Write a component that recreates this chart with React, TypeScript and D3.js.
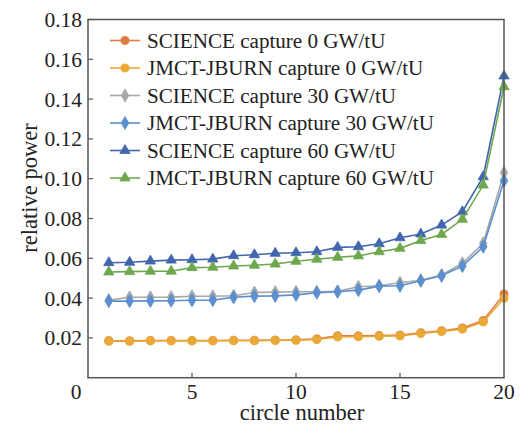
import React from "react";
import * as d3 from "d3";

const circles = [1, 2, 3, 4, 5, 6, 7, 8, 9, 10, 11, 12, 13, 14, 15, 16, 17, 18, 19, 20];

const scienceCapture0 = [0.0186, 0.0185, 0.0187, 0.0187, 0.0187, 0.0187, 0.0188, 0.0188, 0.0189, 0.0190, 0.0195, 0.0210, 0.0210, 0.0212, 0.0214, 0.0226, 0.0236, 0.0250, 0.0287, 0.0420];
const jmctCapture0 = [0.0183, 0.0183, 0.0185, 0.0185, 0.0185, 0.0185, 0.0186, 0.0186, 0.0187, 0.0188, 0.0192, 0.0205, 0.0206, 0.0208, 0.0210, 0.0222, 0.0232, 0.0244, 0.0280, 0.0399];
const scienceCapture30 = [0.0390, 0.0404, 0.0404, 0.0405, 0.0409, 0.0409, 0.0412, 0.0428, 0.0430, 0.0432, 0.0432, 0.0434, 0.0457, 0.0462, 0.0477, 0.0490, 0.0516, 0.0575, 0.0675, 0.1030];
const jmctCapture30 = [0.0385, 0.0385, 0.0386, 0.0387, 0.0389, 0.0390, 0.0404, 0.0410, 0.0411, 0.0416, 0.0427, 0.0432, 0.0440, 0.0460, 0.0462, 0.0487, 0.0512, 0.0561, 0.0658, 0.0990];
const scienceCapture60 = [0.0578, 0.0580, 0.0586, 0.0591, 0.0593, 0.0596, 0.0613, 0.0618, 0.0625, 0.0628, 0.0633, 0.0655, 0.0658, 0.0673, 0.0703, 0.0722, 0.0767, 0.0834, 0.1010, 0.1516];
const jmctCapture60 = [0.0531, 0.0533, 0.0535, 0.0535, 0.0553, 0.0555, 0.0561, 0.0565, 0.0571, 0.0585, 0.0595, 0.0605, 0.0612, 0.0633, 0.0650, 0.0689, 0.0720, 0.0796, 0.0968, 0.1462];

const seriesNames = [
  "SCIENCE capture 0 GW/tU",
  "JMCT-JBURN capture 0 GW/tU",
  "SCIENCE capture 30 GW/tU",
  "JMCT-JBURN capture 30 GW/tU",
  "SCIENCE capture 60 GW/tU",
  "JMCT-JBURN capture 60 GW/tU",
];
const seriesValues = [scienceCapture0, jmctCapture0, scienceCapture30, jmctCapture30, scienceCapture60, jmctCapture60];
const seriesColors = ["#E07C42", "#E9A936", "#A8A8A8", "#5B8FCF", "#4166AE", "#6EA84E"];
const seriesMarkers = ["circle", "circle", "diamond", "diamond", "triangle", "triangle"];

const xTicks = [0, 5, 10, 15, 20];
const yTicks = [0.02, 0.04, 0.06, 0.08, 0.1, 0.12, 0.14, 0.16, 0.18];
const xTitle = "circle number";
const yTitle = "relative power";

const W = 521;
const H = 426;
const FONT = '"Liberation Serif", "DejaVu Serif", serif';

function Marker({ type, x, y, color }: { type: string; x: number; y: number; color: string }) {
  const sym =
    type === "circle" ? d3.symbolCircle : type === "diamond" ? d3.symbolDiamond : d3.symbolTriangle;
  const size = type === "circle" ? 52 : type === "diamond" ? 50 : 46;
  const path = d3.symbol().type(sym).size(size)() || "";
  return <path d={path} transform={`translate(${x},${y})`} fill={color} stroke={color} strokeWidth={0.8} />;
}

const tickStyle: React.CSSProperties = { fontFamily: FONT, fontSize: 21.5 };
const legendStyle: React.CSSProperties = { fontFamily: FONT, fontSize: 21.1 };
const titleStyle: React.CSSProperties = { fontFamily: FONT, fontSize: 22.5 };

export default function App() {
  const x = d3.scaleLinear().domain([0, 20]).range([88, 504]);
  const y = d3.scaleLinear().domain([0, 0.18]).range([377.7, 19.5]);
  const line = d3
    .line<number>()
    .x((_, i) => x(circles[i]))
    .y((d) => y(d));

  const axisColor = "#555";
  const textColor = "#222";

  return (
    <div style={{ position: "absolute", left: 0, top: 0, width: W, height: H, background: "#fff" }}>
      <svg width={W} height={H} style={{ display: "block", fontFamily: FONT }}>
        <rect x={0} y={0} width={W} height={H} fill="#fff" />
        {seriesValues.map((vals, si) => (
          <g key={si}>
            <path d={line(vals) || ""} fill="none" stroke={seriesColors[si]} strokeWidth={1.6} />
            {vals.map((v, i) => (
              <Marker key={i} type={seriesMarkers[si]} x={x(circles[i])} y={y(v)} color={seriesColors[si]} />
            ))}
          </g>
        ))}
        <rect
          x={x(0)}
          y={y(0.18)}
          width={x(20) - x(0)}
          height={y(0) - y(0.18)}
          fill="none"
          stroke={axisColor}
          strokeWidth={1.5}
        />
        {yTicks.map((t) => (
          <g key={t}>
            <line x1={x(0)} x2={x(0) + 5} y1={y(t)} y2={y(t)} stroke={axisColor} strokeWidth={1.2} />
            <text x={x(0) - 6} y={y(t)} dy="0.35em" textAnchor="end" style={tickStyle} fill={textColor}>
              {d3.format(".2f")(t)}
            </text>
          </g>
        ))}
        {xTicks.map((t) => (
          <g key={t}>
            {t > 0 && t < 20 && (
              <line x1={x(t)} x2={x(t)} y1={y(0)} y2={y(0) - 5} stroke={axisColor} strokeWidth={1.2} />
            )}
            <text
              x={x(t) + (t === 0 ? -12 : 0)}
              y={399}
              textAnchor="middle"
              style={tickStyle}
              fill={textColor}
            >
              {t}
            </text>
          </g>
        ))}
        <text x={x(10) + 6} y={420} textAnchor="middle" style={titleStyle} fill={textColor}>
          {xTitle}
        </text>
        <text
          transform={`translate(37,188) rotate(-90)`}
          textAnchor="middle"
          style={titleStyle}
          fill={textColor}
        >
          {yTitle}
        </text>
        {seriesNames.map((name, i) => {
          const ly = 40.5 + i * 27.5;
          return (
            <g key={name}>
              <line x1={110} x2={140} y1={ly} y2={ly} stroke={seriesColors[i]} strokeWidth={1.6} />
              <Marker type={seriesMarkers[i]} x={125} y={ly} color={seriesColors[i]} />
              <text x={147} y={ly} dy="0.35em" style={legendStyle} fill={textColor}>
                {name}
              </text>
            </g>
          );
        })}
      </svg>
    </div>
  );
}
